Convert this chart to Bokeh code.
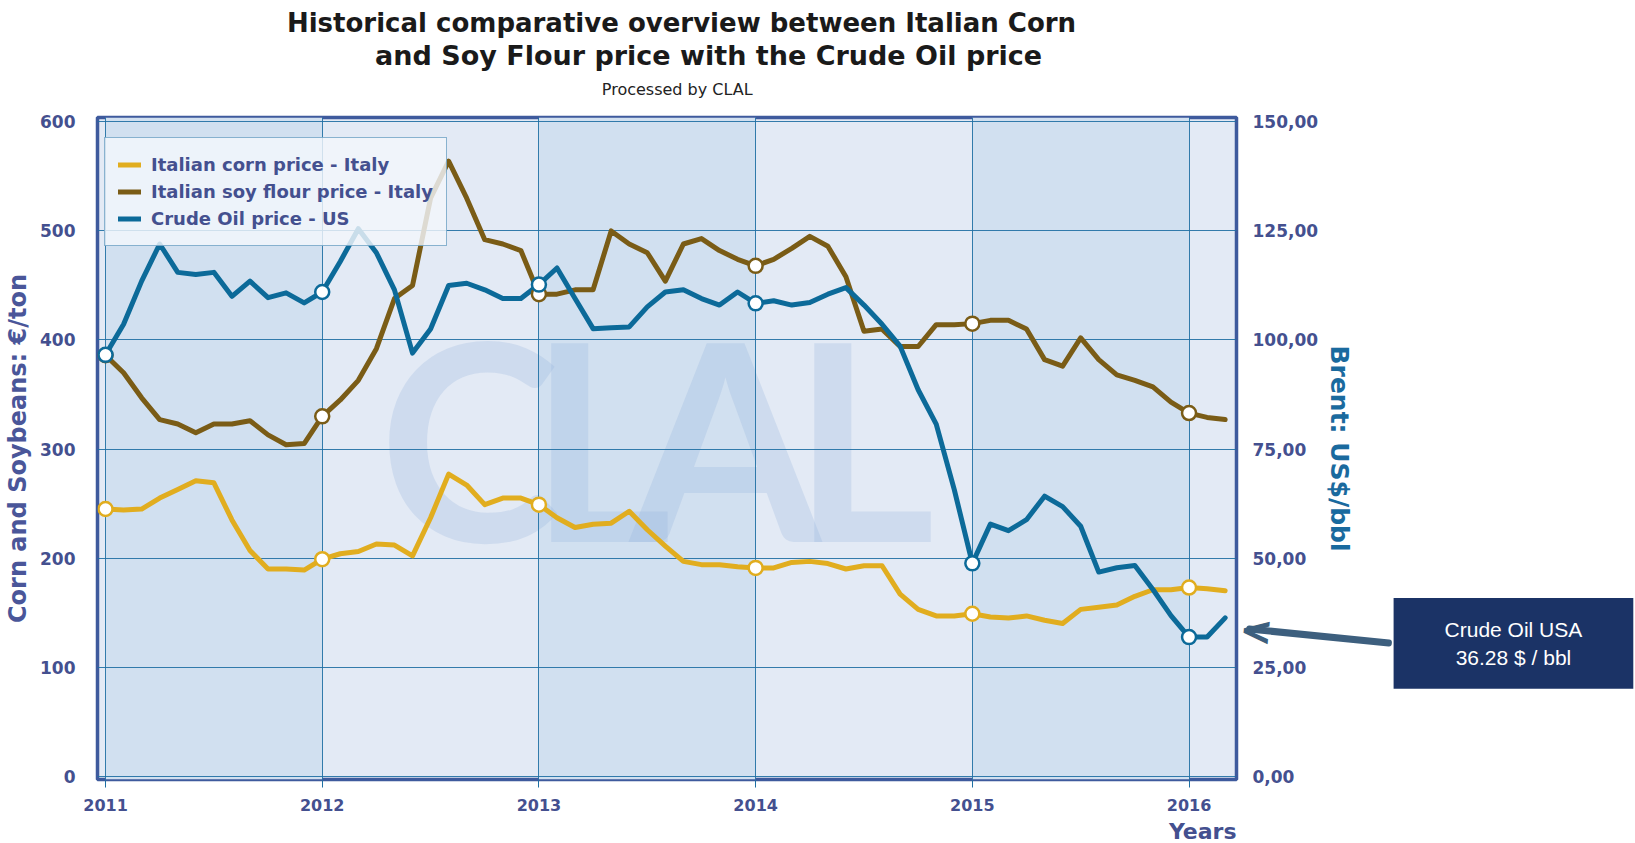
from bokeh.plotting import figure
from bokeh.models import (Range1d, LinearAxis, FixedTicker, Legend, LegendItem,
                          Label, BoxAnnotation, ColumnDataSource)
from bokeh.embed import file_html
from bokeh.resources import INLINE

# ---------------- data (monthly, Jan 2011 .. Mar 2016) ----------------
start_year = 2011
years = [2011, 2012, 2013, 2014, 2015, 2016]
corn = [245, 244, 245, 255, 263, 271, 269, 235, 207, 190, 190, 189,
        199, 204, 206, 213, 212, 202, 237, 277, 267, 249, 255, 255,
        249, 237, 228, 231, 232, 243, 226, 211, 197, 194, 194, 192,
        191, 191, 196, 197, 195, 190, 193, 193, 167, 153, 147, 147,
        149, 146, 145, 147, 143, 140, 153, 155, 157, 165, 171, 171,
        173, 172, 170]
soy = [386, 370, 347, 327, 323, 315, 323, 323, 326, 313, 304, 305,
       330, 345, 363, 392, 438, 450, 530, 564, 530, 492, 488, 482,
       442, 442, 446, 446, 500, 488, 480, 454, 488, 493, 482, 474,
       468, 474, 484, 495, 486, 458, 408, 410, 394, 394, 414, 414,
       415, 418, 418, 410, 382, 376, 402, 382, 368, 363, 357, 343,
       333, 329, 327]
oil = [96.6, 103.6, 113.5, 122.0, 115.5, 115.0, 115.5, 110.0, 113.5, 109.7, 110.8, 108.5,
       111.0, 118.0, 125.5, 120.0, 111.5, 97.0, 102.5, 112.5, 113.0, 111.5, 109.5, 109.5,
       112.7, 116.5, 109.5, 102.6, 102.8, 103.0, 107.6, 111.0, 111.5, 109.5, 108.0, 111.0,
       108.4, 109.0, 108.0, 108.6, 110.5, 112.0, 108.0, 103.6, 98.6, 88.6, 80.7, 65.7,
       48.8, 57.8, 56.3, 58.8, 64.2, 61.8, 57.3, 46.8, 47.8, 48.3, 42.8, 36.8,
       31.9, 31.9, 36.3]
left_ticks = [0, 100, 200, 300, 400, 500, 600]
right_ticks = [0, 25, 50, 75, 100, 125, 150]
right_tick_labels = ["0,00", "25,00", "50,00", "75,00", "100,00", "125,00", "150,00"]
title_line1 = "Historical comparative overview between Italian Corn"
title_line2 = "and Soy Flour price with the Crude Oil price"
subtitle_text = "Processed by CLAL"
latest_oil_text = "Crude Oil USA\n36.28 $ / bbl"
watermark_letters = ["C", "L", "A", "L"]

months = [start_year + i / 12 for i in range(len(corn))]
src = ColumnDataSource(dict(x=months, corn=corn, soy=soy, oil=oil))
yearly = ColumnDataSource(dict(x=months[::12], corn=corn[::12], soy=soy[::12], oil=oil[::12]))

# ---------------- colours / fonts ----------------
C_CORN = "#e1ad1f"
C_SOY = "#7a5c16"
C_OIL = "#0c6a99"
C_GRID = "#1f6fa3"
C_TXT = "#44508f"
C_ARROW = "#3d5f7e"
FONT = "DejaVu Sans"

p = figure(width=1635, height=843, output_backend="svg", toolbar_location=None,
           x_range=Range1d(2010.963, 2016.219), y_range=Range1d(-3, 604),
           min_border_left=97, min_border_right=399, min_border_top=117,
           min_border_bottom=64, background_fill_color="#e3eaf5",
           border_fill_color="white", title_location=None)
p.extra_y_ranges = {"oil": Range1d(-0.75, 151)}
p.outline_line_color = "#3e5a9d"
p.outline_line_width = 3.5

# alternating year bands
for y0 in years[0::2]:
    p.add_layout(BoxAnnotation(left=y0, right=y0 + 1, fill_color="#d1e0f0",
                               fill_alpha=1, line_color=None, level="image"))

# watermark
for i, ch in enumerate(watermark_letters):
    p.add_layout(Label(x=2012.68 + [0, 0.604, 1.181, 1.818][i], y=312, text=ch,
                       text_align="center", text_baseline="middle", text_font="Lato",
                       text_font_style="bold", text_font_size="275px",
                       text_color="#8fb0dc", text_alpha=0.25, level="image"))

# grids
p.xgrid.ticker = FixedTicker(ticks=years)
p.ygrid.ticker = FixedTicker(ticks=left_ticks)
for g in (p.xgrid[0], p.ygrid[0]):
    g.grid_line_color = C_GRID
    g.grid_line_width = 1
    g.grid_line_alpha = 0.9

# x axis
xa = p.xaxis[0]
xa.ticker = FixedTicker(ticks=years)
xa.major_label_overrides = {y: str(y) for y in years}
xa.axis_line_color = None
xa.major_tick_line_color = C_GRID
xa.major_tick_out = 8
xa.major_tick_in = 0
xa.minor_tick_line_color = None
xa.major_label_standoff = 11
xa.major_label_text_font = FONT
xa.major_label_text_font_style = "bold"
xa.major_label_text_font_size = "16px"
xa.major_label_text_color = C_TXT

# left axis
ya = p.yaxis[0]
ya.ticker = FixedTicker(ticks=left_ticks)
ya.axis_line_color = None
ya.major_tick_line_color = None
ya.minor_tick_line_color = None
ya.major_label_standoff = 16
ya.major_label_text_font = FONT
ya.major_label_text_font_style = "bold"
ya.major_label_text_font_size = "17px"
ya.major_label_text_color = C_TXT
ya.axis_label = "Corn and Soybeans: €/ton"
ya.axis_label_standoff = 5
ya.axis_label_text_font = FONT
ya.axis_label_text_font_style = "bold"
ya.axis_label_text_font_size = "24px"
ya.axis_label_text_color = "#4a5699"

# right axis
ra = LinearAxis(y_range_name="oil", ticker=FixedTicker(ticks=right_ticks),
                major_label_overrides=dict(zip(right_ticks, right_tick_labels)))
ra.axis_line_color = None
ra.major_tick_line_color = None
ra.minor_tick_line_color = None
ra.major_label_standoff = 10
ra.major_label_text_font = FONT
ra.major_label_text_font_style = "bold"
ra.major_label_text_font_size = "17px"
ra.major_label_text_color = C_TXT
ra.axis_label = "Brent: US$/bbl"
ra.axis_label_standoff = 4
ra.axis_label_text_font = FONT
ra.axis_label_text_font_style = "bold"
ra.axis_label_text_font_size = "25px"
ra.axis_label_text_color = "#1a6a9e"
p.add_layout(ra, "right")

# series
r_corn = p.line("x", "corn", source=src, line_color=C_CORN, line_width=5,
                line_join="round", line_cap="round")
r_soy = p.line("x", "soy", source=src, line_color=C_SOY, line_width=5,
               line_join="round", line_cap="round")
r_oil = p.line("x", "oil", source=src, line_color=C_OIL, line_width=5,
               line_join="round", line_cap="round", y_range_name="oil")
p.scatter("x", "corn", source=yearly, size=14, fill_color="white",
          line_color=C_CORN, line_width=2.5)
p.scatter("x", "soy", source=yearly, size=14, fill_color="white",
          line_color=C_SOY, line_width=2.5)
p.scatter("x", "oil", source=yearly, size=14, fill_color="white",
          line_color=C_OIL, line_width=2.5, y_range_name="oil")

# legend
legend = Legend(items=[LegendItem(label="Italian corn price - Italy", renderers=[r_corn]),
                       LegendItem(label="Italian soy flour price - Italy", renderers=[r_soy]),
                       LegendItem(label="Crude Oil price - US", renderers=[r_oil])],
                location=(7, 533))
legend.label_text_font = FONT
legend.label_text_font_style = "bold"
legend.label_text_font_size = "18px"
legend.label_text_color = C_TXT
legend.background_fill_color = "#f3f6fb"
legend.background_fill_alpha = 0.82
legend.border_line_color = C_GRID
legend.border_line_width = 1
legend.padding = 13
legend.spacing = 0
legend.margin = 0
legend.label_height = 27
legend.glyph_height = 27
legend.glyph_width = 23
legend.label_standoff = 10
p.add_layout(legend, "center")

# titles: labels placed in side panels so that they are not clipped to the frame
p.add_layout(Label(x=2013.658, y=691.1, text=title_line1, text_align="center",
                   text_baseline="middle", text_font=FONT, text_font_style="bold",
                   text_font_size="26px", text_color="#1a1a1a"), "above")
p.add_layout(Label(x=2013.783, y=660.8, text=title_line2, text_align="center",
                   text_baseline="middle", text_font=FONT, text_font_style="bold",
                   text_font_size="27px", text_color="#1a1a1a"), "above")
p.add_layout(Label(x=2013.638, y=630.1, text=subtitle_text, text_align="center",
                   text_baseline="middle", text_font=FONT, text_font_size="16px",
                   text_color="#222222"), "above")
p.add_layout(Label(x=2016.219, y=-50.7, text="Years", text_align="right",
                   text_baseline="middle", text_font=FONT, text_font_style="bold",
                   text_font_size="22px", text_color=C_TXT), "below")

# callout box
p.add_layout(Label(x=2017.497, y=121.8, text=latest_oil_text, text_align="center",
                   text_baseline="middle", text_font="Liberation Sans",
                   text_font_size="21px", text_color="white",
                   background_fill_color="#1b3366",
                   padding=dict(left=51, right=51, top=20, bottom=20)), "right")
# arrow: shaft as a thin rotated bar, head as an open chevron
p.add_layout(Label(x=2016.600, y=128.6, text=" ", text_font_size="1px", angle=-0.0997,
                   text_align="center", text_baseline="middle",
                   background_fill_color=C_ARROW, border_radius=3,
                   padding=dict(left=73, right=73, top=3, bottom=3)), "above")
p.add_layout(Label(x=2016.233, y=135.5, text="<", angle=-0.0997,
                   text_align="left", text_baseline="middle", text_font=FONT,
                   text_font_style="bold", text_font_size="40px",
                   text_color=C_ARROW), "right")

open("out.html", "w").write(file_html(p, INLINE))
